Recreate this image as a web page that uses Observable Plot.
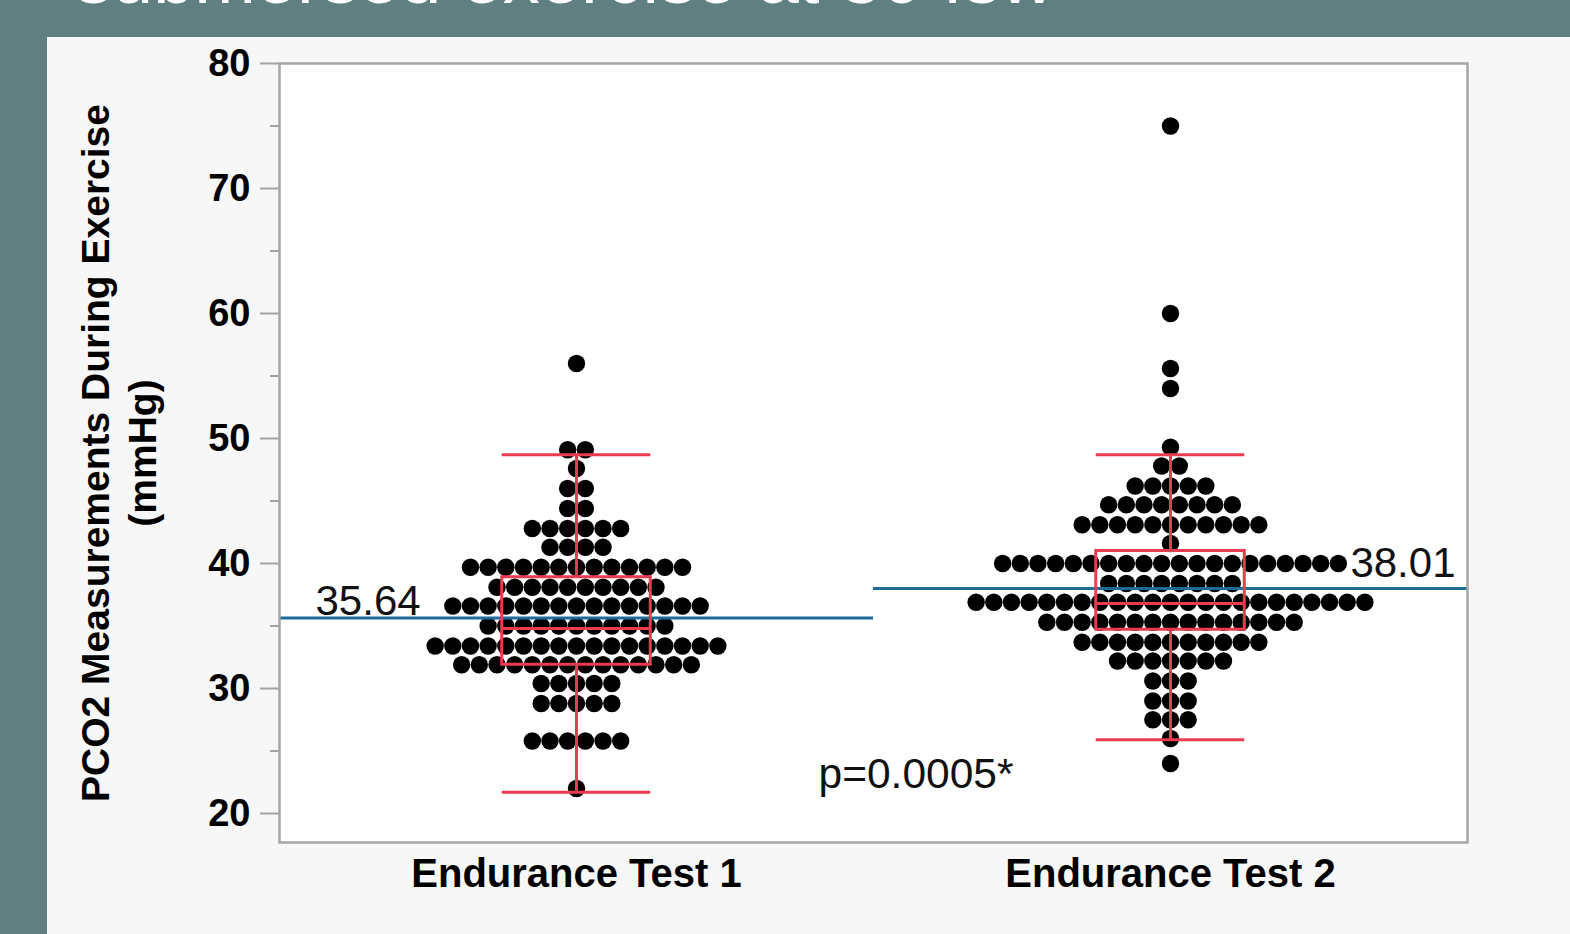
<!DOCTYPE html>
<html>
<head>
<meta charset="utf-8">
<script src="https://cdn.jsdelivr.net/npm/d3@7"></script>
<script src="https://cdn.jsdelivr.net/npm/@observablehq/plot@0.6"></script>
<style>
  html, body { margin: 0; padding: 0; }
  body { width: 1570px; height: 934px; overflow: hidden; position: relative; background: #607f80; font-family: "Liberation Sans", Arial, Helvetica, sans-serif; }
  #title { position: absolute; left: 75px; top: -59px; font-size: 74px; line-height: 74px; color: #ffffff; white-space: nowrap; }
  #panel { position: absolute; left: 47px; top: 37px; width: 1523px; height: 897px; background: #f7f7f7; }
  #panel svg { display: block; }
</style>
</head>
<body>
<div id="title">submersed exercise at 30 fsw</div>
<div id="panel"></div>
<script>
// ---- data ----
const groups = ["Endurance Test 1", "Endurance Test 2"];

// dot-plot rows: binned value and number of dots in that row
const t1Values = [56.0, 49.1, 47.6, 46.0, 44.4, 42.8, 41.3, 39.7, 38.1, 36.6, 35.0, 33.4, 31.9, 30.4, 28.8, 25.8, 22.0];
const t1Counts = [1, 2, 1, 2, 2, 6, 4, 13, 10, 15, 11, 17, 14, 5, 5, 6, 1];

const t2Values = [75.0, 60.0, 55.6, 54.0, 49.3, 47.8, 46.2, 44.7, 43.1, 41.6, 40.0, 38.4, 36.9, 35.3, 33.7, 32.2, 30.6, 29.0, 27.5, 26.0, 24.0];
const t2Counts = [1, 1, 1, 1, 1, 2, 5, 8, 11, 1, 20, 8, 23, 15, 11, 7, 3, 3, 3, 1, 1];

const means = [35.64, 38.01];
const q1 = [31.9, 34.7];
const medians = [34.8, 36.8];
const q3 = [38.9, 41.0];
const whiskerLo = [21.7, 25.9];
const whiskerHi = [48.7, 48.7];

const pText = "p=0.0005*";
const yTicks = [20, 30, 40, 50, 60, 70, 80];
const yMinorTicks = [25, 35, 45, 55, 65, 75];
const yLabel = ["PCO2 Measurements During Exercise", "(mmHg)"];

// ---- layout ----
const W = 1523, H = 897;
const mL = 232, mR = 103, mT = 26, mB = 92;
const unitPx = (W - mL - mR) / 2;     // px per group
const dotStepPx = 17.67;               // dot spacing in a row
const step = dotStepPx / unitPx;
const boxHalf = 0.125;

const red = "#ec3a50";
const blue = "#1b6c9c";

function rowsToPoints(gi, values, counts) {
  const pts = [];
  values.forEach((v, k) => {
    const n = counts[k];
    for (let i = 0; i < n; i++) {
      pts.push({x: gi + 0.5 + (i - (n - 1) / 2) * step, y: v});
    }
  });
  return pts;
}
const points = [...rowsToPoints(0, t1Values, t1Counts), ...rowsToPoints(1, t2Values, t2Counts)];

const stats = groups.map((g, i) => ({
  i, c: i + 0.5, mean: means[i], q1: q1[i], med: medians[i], q3: q3[i], lo: whiskerLo[i], hi: whiskerHi[i]
}));

const chart = Plot.plot({
  width: W, height: H,
  marginLeft: mL, marginRight: mR, marginTop: mT, marginBottom: mB,
  style: {background: "transparent", fontFamily: "'Liberation Sans', Arial, Helvetica, sans-serif", color: "black"},
  x: {domain: [0, 2]},
  y: {domain: [17.68, 80]},
  marks: [
    Plot.frame({fill: "white"}),
    Plot.axisY({ticks: yMinorTicks, tickSize: 9, tickFormat: () => "", stroke: "#a3a3a3", strokeWidth: 2}),
    Plot.axisY({ticks: yTicks, tickSize: 19, tickPadding: 10, stroke: "#a3a3a3", strokeWidth: 2, fill: "black", fontSize: 38, fontWeight: "bold"}),
    Plot.axisX({ticks: [0.5, 1.5], tickFormat: d => groups[Math.floor(d)], tickSize: 0, tickPadding: 16, fill: "black", fontSize: 40, fontWeight: "bold"}),
    Plot.dot(points, {x: "x", y: "y", r: 8.7, fill: "black", stroke: "none"}),
    Plot.ruleY(stats, {x1: d => d.i, x2: d => d.i + 1, y: "mean", stroke: blue, strokeWidth: 3}),
    Plot.rect(stats, {x1: d => d.c - boxHalf, x2: d => d.c + boxHalf, y1: "q1", y2: "q3", fill: "none", stroke: red, strokeWidth: 3}),
    Plot.ruleY(stats, {x1: d => d.c - boxHalf, x2: d => d.c + boxHalf, y: "med", stroke: red, strokeWidth: 3}),
    Plot.ruleX(stats, {x: "c", y1: "q3", y2: "hi", stroke: red, strokeWidth: 3}),
    Plot.ruleX(stats, {x: "c", y1: "lo", y2: "q1", stroke: red, strokeWidth: 3}),
    Plot.ruleY(stats, {x1: d => d.c - boxHalf, x2: d => d.c + boxHalf, y: "hi", stroke: red, strokeWidth: 3}),
    Plot.ruleY(stats, {x1: d => d.c - boxHalf, x2: d => d.c + boxHalf, y: "lo", stroke: red, strokeWidth: 3}),
    Plot.text([stats[0]], {x: d => d.i, y: "mean", text: d => d.mean.toFixed(2), textAnchor: "start", lineAnchor: "bottom", dx: 36, dy: -3, fontSize: 42, fill: "#111"}),
    Plot.text([stats[1]], {x: d => d.i + 1, y: "mean", text: d => d.mean.toFixed(2), textAnchor: "end", lineAnchor: "bottom", dx: -12, dy: -11, fontSize: 42, fill: "#111"}),
    Plot.text([pText], {x: 1, frameAnchor: "bottom", text: d => d, textAnchor: "start", lineAnchor: "bottom", dx: -55, dy: -55, fontSize: 42.5, fill: "#111"}),
    Plot.text([yLabel.join("\n")], {frameAnchor: "left", text: d => d, rotate: -90, textAnchor: "middle", lineAnchor: "top", lineHeight: 1.2, dx: -204, fontSize: 39, fontWeight: "bold", fill: "black"}),
    Plot.frame({stroke: "#a6a6a6", strokeWidth: 2.5})
  ]
});
document.getElementById("panel").appendChild(chart);
</script>
</body>
</html>
